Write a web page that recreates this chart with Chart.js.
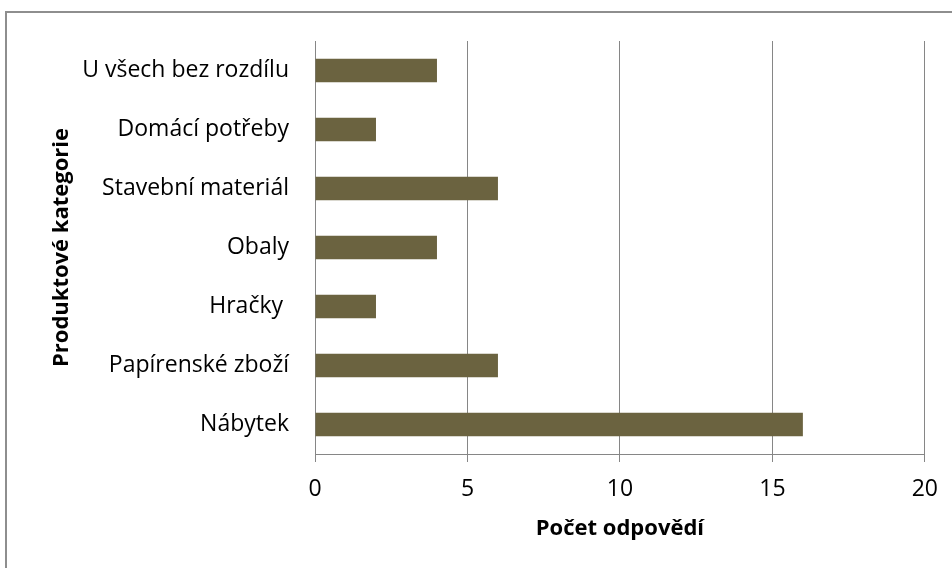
<!DOCTYPE html>
<html lang="cs">
<head>
  <meta charset="UTF-8">
  <title>Produktové kategorie</title>
  <script src="https://cdn.jsdelivr.net/npm/chart.js"></script>
  <style>
    html, body { margin: 0; padding: 0; background: #fff; overflow: hidden; }
    #wrap { position: relative; width: 952px; height: 568px; }
    #frame { position: absolute; left: 5px; top: 11px; width: 1000px; height: 1000px; border: 2px solid #8e8e8e; box-sizing: border-box; }
    #chart { position: absolute; left: 0; top: 0; }
  </style>
</head>
<body>
  <div id="wrap">
    <div id="frame"></div>
    <canvas id="chart" width="952" height="568"></canvas>
  </div>

  <script>
    const categories = ['U všech bez rozdílu', 'Domácí potřeby', 'Stavební materiál', 'Obaly', 'Hračky ', 'Papírenské zboží', 'Nábytek'];
    const answers = [4, 2, 6, 4, 2, 6, 16];
    const xTicks = [0, 5, 10, 15, 20];

    const FONT = '"Open Sans", "Noto Sans", sans-serif';
    const GRID = '#868686';

    new Chart(document.getElementById('chart'), {
      type: 'bar',
      data: {
        labels: categories,
        datasets: [{
          label: 'Počet odpovědí',
          data: answers,
          backgroundColor: '#6b6340',
          borderWidth: 0,
          categoryPercentage: 1,
          barPercentage: 0.4
        }]
      },
      options: {
        indexAxis: 'y',
        responsive: false,
        animation: false,
        layout: { padding: { left: 49, top: 41, right: 27, bottom: 20 } },
        plugins: {
          legend: { display: false },
          tooltip: { enabled: false }
        },
        scales: {
          x: {
            min: 0,
            max: 20,
            afterBuildTicks: (scale) => { scale.ticks = xTicks.map(v => ({ value: v })); },
            afterFit: (scale) => { scale.height = 94; },
            grid: { color: GRID, lineWidth: 1, drawTicks: true, tickLength: 8 },
            border: { display: true, color: GRID, width: 1 },
            ticks: { color: '#000', padding: 14, font: { family: FONT, size: 23 } },
            title: {
              display: true,
              text: 'Počet odpovědí',
              color: '#000',
              padding: { top: 0, bottom: 6 },
              font: { family: FONT, size: 22, weight: 'bold' }
            }
          },
          y: {
            afterFit: (scale) => { scale.width = 266; },
            grid: { display: false, drawTicks: false },
            border: { display: true, color: GRID, width: 1 },
            ticks: { color: '#000', padding: 26, font: { family: FONT, size: 23 } },
            title: {
              display: true,
              text: 'Produktové kategorie',
              color: '#000',
              padding: 0,
              font: { family: FONT, size: 22, weight: 'bold' }
            }
          }
        }
      }
    });
  </script>
</body>
</html>
